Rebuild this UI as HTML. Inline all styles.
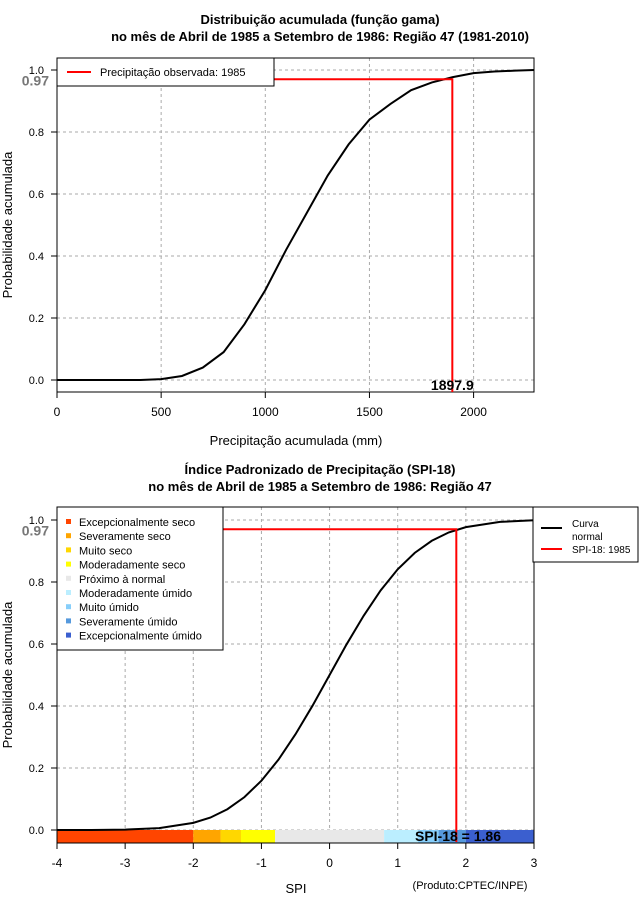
<!DOCTYPE html>
<html><head><meta charset="utf-8"><style>
body{margin:0;background:#fff;width:640px;height:900px;overflow:hidden}
svg{display:block;font-family:"Liberation Sans",sans-serif}
</style></head><body>
<svg id="s" width="640" height="900" xmlns="http://www.w3.org/2000/svg"></svg>
<script>
// Top chart data (gamma CDF)
const precipX = [0,100,200,300,400,500,600,700,800,900,1000,1100,1200,1300,1400,1500,1600,1700,1800,1900,2000,2100,2200,2290];
const precipP = [0,0,0,0,0,0.003,0.013,0.04,0.09,0.18,0.29,0.42,0.54,0.66,0.76,0.84,0.89,0.935,0.96,0.977,0.99,0.995,0.998,1.0];
const obsPrecip = 1897.9;
const obsProb = 0.97;
const topXTicks = [0,500,1000,1500,2000];
const yTicks = [0,0.2,0.4,0.6,0.8,1.0];
// Bottom chart data (normal CDF)
const spiX = [-4,-3.5,-3,-2.5,-2,-1.75,-1.5,-1.25,-1,-0.75,-0.5,-0.25,0,0.25,0.5,0.75,1,1.25,1.5,1.75,2,2.5,3];
const spiP = [0,0.0002,0.0013,0.006,0.023,0.04,0.067,0.106,0.159,0.227,0.309,0.401,0.5,0.599,0.691,0.773,0.841,0.894,0.933,0.96,0.977,0.994,0.999];
const spiObs = 1.86;
const botXTicks = [-4,-3,-2,-1,0,1,2,3];
const catNames = ["Excepcionalmente seco","Severamente seco","Muito seco","Moderadamente seco","Próximo à normal","Moderadamente úmido","Muito úmido","Severamente úmido","Excepcionalmente úmido"];
const catColors = ["#ff4500","#ffa500","#ffd700","#ffff00","#e8e8e8","#bbeeff","#87cefa","#5599dd","#3b5fcf"];
const catLo = [-4,-2,-1.6,-1.3,-0.8,0.8,1.3,1.6,2];
const catHi = [-2,-1.6,-1.3,-0.8,0.8,1.3,1.6,2,3];

const s=document.getElementById('s');const NS='http://www.w3.org/2000/svg';
function el(t,a,txt){const e=document.createElementNS(NS,t);for(const k in a)e.setAttribute(k,a[k]);if(txt!==undefined)e.textContent=txt;s.appendChild(e);return e;}

function panel(o){
  const X=v=>o.x0+(v-o.xmin)/(o.xmax-o.xmin)*(o.x1-o.x0);
  const Y=v=>o.y0-v*(o.y0-o.y1);
  let t=el('text',{x:320,y:o.ty,'text-anchor':'middle','font-size':13,'font-weight':'bold'},o.t1);
  
  t=el('text',{x:320,y:o.ty+17,'text-anchor':'middle','font-size':13,'font-weight':'bold'},o.t2);
  
  o.xt.forEach(v=>{const g=el('line',{x1:X(v),x2:X(v),y1:o.bt,y2:o.bb,stroke:'#aaa','stroke-dasharray':'3,3'});});
  yTicks.forEach(v=>{const g=el('line',{x1:o.x0,x2:o.x1,y1:Y(v),y2:Y(v),stroke:'#aaa','stroke-dasharray':'3,3'});});
  if(o.bar){catLo.forEach((lo,i)=>{const r=el('rect',{x:X(lo),y:o.y0,width:X(catHi[i])-X(lo),height:o.bb-o.y0,fill:catColors[i]});});}
  const b=el('rect',{x:o.x0,y:o.bt,width:o.x1-o.x0,height:o.bb-o.bt,fill:'none',stroke:'#000'});
  
  yTicks.forEach(v=>{el('line',{x1:o.x0-6,x2:o.x0,y1:Y(v),y2:Y(v),stroke:'#000'});
    const l=el('text',{x:o.x0-13,y:Y(v)+4,'text-anchor':'end','font-size':11},v.toFixed(1));});
  const ya=el('text',{transform:`translate(12,${(o.bt+o.bb)/2}) rotate(-90)`,'text-anchor':'middle','font-size':13},'Probabilidade acumulada');
  
  el('line',{x1:X(o.xt[0]),x2:X(o.xt[o.xt.length-1]),y1:o.ax,y2:o.ax,stroke:'#000'});
  o.xt.forEach(v=>{el('line',{x1:X(v),x2:X(v),y1:o.ax,y2:o.ax+6,stroke:'#000'});
    const l=el('text',{x:X(v),y:o.ax+24,'text-anchor':'middle','font-size':12},v);});
  const xa=el('text',{x:o.xlx,y:o.ax+o.xlo,'text-anchor':'middle','font-size':13},o.xl);
  
  const c=el('polyline',{points:o.cx.map((v,i)=>X(v)+','+Y(o.cy[i])).join(' '),fill:'none',stroke:'#000','stroke-width':2});
  
  const r=el('polyline',{points:`${o.x0},${Y(obsProb)} ${X(o.obs)},${Y(obsProb)} ${X(o.obs)},${o.y0+12}`,fill:'none',stroke:'#f00','stroke-width':2});
  
  const q=el('text',{x:o.x0-8,y:Y(obsProb)+6,'text-anchor':'end','font-size':14,'font-weight':'bold',fill:'#777'},obsProb.toFixed(2));
  
  return X;
}
const topCfg={id:'gamma',t1:'Distribuição acumulada (função gama)',t2:'no mês de Abril de 1985 a Setembro de 1986: Região 47 (1981-2010)',ty:24,x0:57,x1:534,xmin:0,xmax:2290,y0:380,y1:70,bt:58,bb:392,ax:392,xlo:53,xt:topXTicks,xl:'Precipitação acumulada (mm)',xlx:296,cx:precipX,cy:precipP,obs:obsPrecip};
const Xt=panel(topCfg);
let v=el('text',{x:Xt(obsPrecip),y:390,'text-anchor':'middle','font-size':14,'font-weight':'bold'},obsPrecip.toFixed(1));

let lg=el('rect',{x:57,y:58,width:217,height:28,fill:'#fff',stroke:'#000'});
el('line',{x1:67,x2:91,y1:72,y2:72,stroke:'#f00','stroke-width':2});
v=el('text',{x:100,y:76,'font-size':11},'Precipitação observada: 1985');

const botCfg={id:'spi',t1:'Índice Padronizado de Precipitação (SPI-18)',t2:'no mês de Abril de 1985 a Setembro de 1986: Região 47',ty:474,x0:57,x1:534,xmin:-4,xmax:3,y0:830,y1:520,bt:507,bb:843,ax:843,xlo:50,xt:botXTicks,xl:'SPI',xlx:296,cx:spiX,cy:spiP,obs:spiObs,bar:true};
const Xb=panel(botCfg);
v=el('text',{x:458,y:841,'text-anchor':'middle','font-size':14,'font-weight':'bold'},'SPI-18 = '+spiObs.toFixed(2));

v=el('text',{x:470,y:889,'text-anchor':'middle','font-size':11},'(Produto:CPTEC/INPE)');

lg=el('rect',{x:57,y:507,width:166,height:143,fill:'#fff',stroke:'#000'});
catNames.forEach((n,i)=>{const y=522+i*14.2;
  const m=el('rect',{x:66,y:y-3,width:5,height:5,fill:catColors[i]});
  const t=el('text',{x:79,y:y+4,'font-size':11},n);});
lg=el('rect',{x:533,y:507,width:105,height:55,fill:'#fff',stroke:'#000'});
el('line',{x1:541,x2:562,y1:528,y2:528,stroke:'#000','stroke-width':2});
el('line',{x1:541,x2:562,y1:549,y2:549,stroke:'#f00','stroke-width':2});
v=el('text',{x:572,y:527,'font-size':10},'Curva');
v=el('text',{x:572,y:540,'font-size':10},'normal');
v=el('text',{x:572,y:553,'font-size':10},'SPI-18: 1985');
</script>
</body></html>
